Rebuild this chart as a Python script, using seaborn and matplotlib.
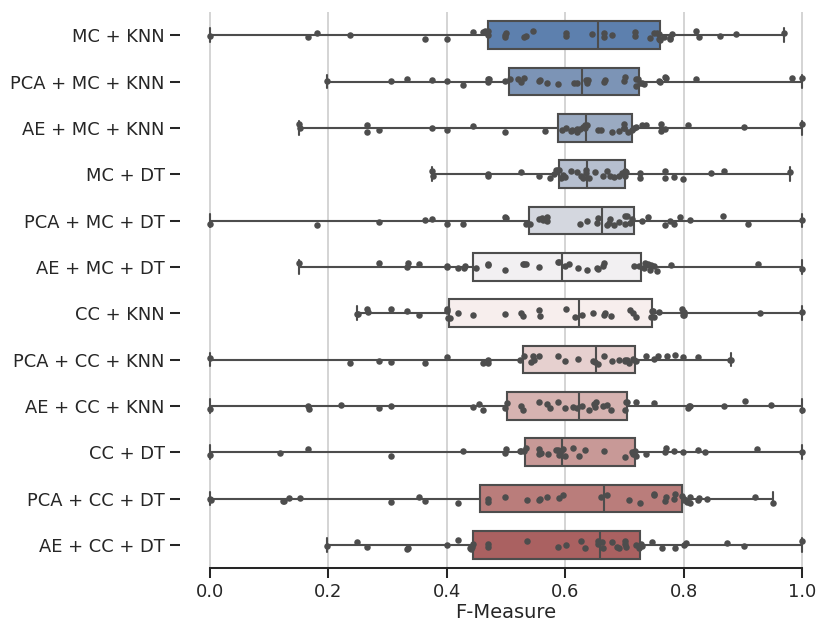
import numpy as np
import pandas as pd
import matplotlib
matplotlib.use("Agg")
import matplotlib.pyplot as plt
import seaborn as sns

sns.set_theme(style="ticks")

# ── Data (F-Measure per data set) ───────────────────────────────────────────
methods = [
    "MC + KNN", "PCA + MC + KNN", "AE + MC + KNN",
    "MC + DT", "PCA + MC + DT", "AE + MC + DT",
    "CC + KNN", "PCA + CC + KNN", "AE + CC + KNN",
    "CC + DT", "PCA + CC + DT", "AE + CC + DT",
]

mc_knn = [0.0, 0.166, 0.181, 0.236, 0.363, 0.40, 0.445, 0.461, 0.465, 0.469,
          0.47, 0.499, 0.499, 0.50, 0.531, 0.534, 0.546, 0.601, 0.601, 0.645,
          0.665, 0.666, 0.679, 0.718, 0.718, 0.743, 0.749, 0.755, 0.759, 0.759,
          0.76, 0.766, 0.776, 0.776, 0.78, 0.821, 0.826, 0.861, 0.888, 0.969]
pca_mc_knn = [0.198, 0.306, 0.333, 0.375, 0.40, 0.428, 0.469, 0.47, 0.471, 0.499,
              0.506, 0.521, 0.526, 0.531, 0.555, 0.557, 0.569, 0.588, 0.614, 0.62,
              0.635, 0.636, 0.639, 0.665, 0.667, 0.699, 0.70, 0.719, 0.72, 0.723,
              0.726, 0.73, 0.733, 0.759, 0.76, 0.769, 0.77, 0.821, 0.983, 1.0]
ae_mc_knn = [0.151, 0.152, 0.265, 0.266, 0.285, 0.375, 0.40, 0.445, 0.499, 0.566,
             0.594, 0.601, 0.609, 0.612, 0.619, 0.62, 0.625, 0.63, 0.633, 0.633,
             0.637, 0.655, 0.66, 0.679, 0.69, 0.699, 0.699, 0.699, 0.706, 0.712,
             0.716, 0.72, 0.729, 0.736, 0.761, 0.762, 0.769, 0.807, 0.901, 1.0]
mc_dt = [0.375, 0.376, 0.469, 0.47, 0.525, 0.556, 0.575, 0.581, 0.585, 0.588,
         0.59, 0.593, 0.596, 0.60, 0.61, 0.619, 0.626, 0.63, 0.635, 0.635,
         0.64, 0.65, 0.663, 0.67, 0.676, 0.683, 0.69, 0.695, 0.70, 0.70,
         0.703, 0.726, 0.726, 0.768, 0.768, 0.784, 0.799, 0.846, 0.868, 0.979]
pca_mc_dt = [0.0, 0.181, 0.285, 0.363, 0.375, 0.40, 0.428, 0.499, 0.50, 0.533,
             0.54, 0.556, 0.56, 0.563, 0.569, 0.57, 0.625, 0.636, 0.653, 0.655,
             0.67, 0.673, 0.675, 0.683, 0.69, 0.701, 0.701, 0.705, 0.709, 0.712,
             0.729, 0.739, 0.769, 0.776, 0.784, 0.793, 0.811, 0.866, 0.909, 1.0]
ae_mc_dt = [0.151, 0.285, 0.333, 0.335, 0.353, 0.40, 0.401, 0.419, 0.429, 0.43,
            0.45, 0.469, 0.47, 0.499, 0.528, 0.53, 0.533, 0.556, 0.588, 0.59,
            0.60, 0.606, 0.621, 0.636, 0.653, 0.655, 0.663, 0.665, 0.716, 0.725,
            0.733, 0.735, 0.74, 0.743, 0.745, 0.75, 0.755, 0.779, 0.926, 1.0]
cc_knn = [0.248, 0.25, 0.265, 0.267, 0.306, 0.333, 0.353, 0.40, 0.401, 0.402,
          0.405, 0.419, 0.445, 0.499, 0.526, 0.528, 0.556, 0.558, 0.601, 0.617,
          0.628, 0.646, 0.665, 0.667, 0.678, 0.709, 0.715, 0.72, 0.745, 0.747,
          0.748, 0.75, 0.759, 0.797, 0.798, 0.80, 0.801, 0.80, 0.929, 1.0]
pca_cc_knn = [0.0, 0.236, 0.285, 0.306, 0.363, 0.40, 0.461, 0.469, 0.47, 0.524,
              0.53, 0.543, 0.545, 0.547, 0.555, 0.588, 0.60, 0.621, 0.646, 0.65,
              0.655, 0.666, 0.679, 0.69, 0.70, 0.701, 0.705, 0.708, 0.714, 0.716,
              0.72, 0.736, 0.749, 0.757, 0.771, 0.786, 0.799, 0.824, 0.878, 0.879]
ae_cc_knn = [0.0, 0.166, 0.168, 0.221, 0.285, 0.306, 0.445, 0.454, 0.461, 0.499,
             0.502, 0.526, 0.528, 0.555, 0.569, 0.575, 0.588, 0.60, 0.613, 0.62,
             0.628, 0.64, 0.649, 0.65, 0.652, 0.663, 0.67, 0.678, 0.70, 0.703,
             0.705, 0.72, 0.749, 0.808, 0.809, 0.811, 0.868, 0.903, 0.948, 1.0]
cc_dt = [0.0, 0.119, 0.166, 0.306, 0.428, 0.499, 0.50, 0.523, 0.525, 0.53,
         0.533, 0.555, 0.556, 0.557, 0.559, 0.571, 0.585, 0.588, 0.59, 0.593,
         0.597, 0.599, 0.613, 0.623, 0.633, 0.666, 0.70, 0.713, 0.715, 0.717,
         0.719, 0.736, 0.769, 0.77, 0.784, 0.799, 0.824, 0.836, 0.924, 1.0]
pca_cc_dt = [0.0, 0.002, 0.124, 0.126, 0.133, 0.153, 0.306, 0.353, 0.363, 0.419,
             0.469, 0.47, 0.499, 0.535, 0.555, 0.557, 0.569, 0.589, 0.596, 0.66,
             0.67, 0.708, 0.726, 0.749, 0.75, 0.769, 0.77, 0.784, 0.785, 0.797,
             0.80, 0.80, 0.805, 0.81, 0.81, 0.824, 0.826, 0.839, 0.921, 0.951]
ae_cc_dt = [0.198, 0.249, 0.265, 0.333, 0.335, 0.40, 0.419, 0.44, 0.441, 0.443,
            0.445, 0.469, 0.47, 0.535, 0.588, 0.601, 0.626, 0.633, 0.655, 0.656,
            0.662, 0.663, 0.679, 0.688, 0.69, 0.70, 0.701, 0.703, 0.72, 0.725,
            0.728, 0.73, 0.746, 0.763, 0.786, 0.80, 0.803, 0.873, 0.901, 1.0]

scores = [mc_knn, pca_mc_knn, ae_mc_knn, mc_dt, pca_mc_dt, ae_mc_dt,
          cc_knn, pca_cc_knn, ae_cc_knn, cc_dt, pca_cc_dt, ae_cc_dt]

df = pd.DataFrame({
    "Method": np.repeat(methods, [len(s) for s in scores]),
    "F-Measure": np.concatenate(scores),
})

# ── Plot ────────────────────────────────────────────────────────────────────
np.random.seed(3)
DPI = 117
fig = plt.figure(figsize=(817 / DPI, 625 / DPI), dpi=DPI)
ax = fig.add_axes([0.2205, 0.0912, 0.7977, 0.8896])

sns.boxplot(data=df, x="F-Measure", y="Method", hue="Method", order=methods,
            whis=[0, 100], width=.6, palette="vlag", legend=False,
            linecolor=".3", linewidth=1.3, ax=ax)
sns.stripplot(data=df, x="F-Measure", y="Method", order=methods,
              size=4, color=".3", ax=ax)

ax.set_xlim(-0.05, 1.05)
ax.xaxis.grid(True)
ax.set(ylabel="")
ax.set_xlabel("F-Measure", labelpad=1)
sns.despine(trim=True, left=True)

fig.savefig("out.png", dpi=DPI)
